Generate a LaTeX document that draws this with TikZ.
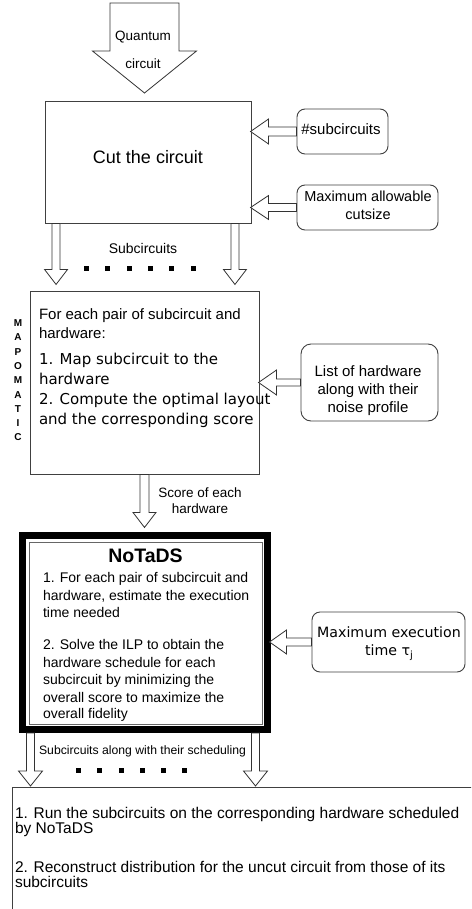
\documentclass[tikz,border=0pt]{standalone}
\usepackage{fontspec}
\setmainfont{Liberation Sans}
\newfontfamily\dejavu{DejaVu Sans}
\usetikzlibrary{calc}
\newcommand{\fs}[2]{\fontsize{#1}{#2}\selectfont}
\newcommand{\blockarr}[6]{%
  \begin{scope}[shift={#1}, rotate=#2]
    \draw[arrline] (0,#4) -- ({#3-#6},#4) -- ({#3-#6},#5) -- (#3,0) -- ({#3-#6},-#5) -- ({#3-#6},-#4) -- (0,-#4) -- cycle;
  \end{scope}}
\tikzset{
  boxline/.style={draw=black!75, line width=0.9pt},
  sqbox/.style={boxline, rectangle, inner sep=0pt},
  rbox/.style={boxline, rectangle, rounded corners=8pt, inner sep=0pt},
  arrline/.style={draw=black!80, line width=0.8pt, fill=white, line join=miter},
  txt/.style={inner sep=0pt, outer sep=0pt},
  sqdot/.style={fill=black, inner sep=0pt, minimum size=5pt},
}
\begin{document}
\begin{tikzpicture}[x=1pt,y=-1pt]
\useasboundingbox (0,0) rectangle (471,909);
\clip (0,0) rectangle (471,909);
\fill[white] (0,0) rectangle (471,909);

% boxes
\node[sqbox, minimum width=206pt, minimum height=122pt] (cut) at (148,162) {};
\node[rbox, minimum width=91pt, minimum height=45pt] (sub) at (342.5,131.5) {};
\node[rbox, minimum width=141pt, minimum height=45pt] (maxcut) at (367.5,207.5) {};
\node[sqbox, minimum width=229pt, minimum height=183pt] (mapo) at (144.5,382.5) {};
\node[rbox, rounded corners=10pt, minimum width=137pt, minimum height=77pt] (list) at (369.5,382.5) {};
\node[draw=black, line width=7pt, rectangle, inner sep=0pt, minimum width=245pt, minimum height=194pt] (notads) at (145,632.5) {};
\node[draw=black!60, line width=0.8pt, rectangle, inner sep=0pt, minimum width=233pt, minimum height=182pt] (notin) at (145.5,633) {};
\node[rbox, minimum width=153pt, minimum height=60pt] (maxexec) at (388.5,642) {};
\node[sqbox, anchor=north west, minimum width=520pt, minimum height=200pt] (run) at (12,787) {};
\coordinate (qin) at (144.5,3);

% block arrows
\blockarr{(qin)}{-90}{90}{34.5}{52}{42}
\blockarr{($(cut.south west)+(11.5,0)$)}{-90}{61}{4}{11.5}{15}
\blockarr{($(cut.south east)+(-16.5,0)$)}{-90}{61}{4}{11.5}{15}
\blockarr{(sub.west)}{180}{46}{4.5}{12.5}{18}
\blockarr{(maxcut.west)}{180}{46}{4}{12}{18}
\blockarr{(list.west)}{180}{42}{3.5}{12.5}{18}
\blockarr{(mapo.south)}{-90}{53}{4.5}{11.5}{15}
\blockarr{(maxexec.west)}{180}{42}{4}{12}{17}
\blockarr{($(notads.south west)+(11.5,0)$)}{-90}{53}{4}{12}{15}
\blockarr{($(notads.south east)+(-15.5,0)$)}{-90}{53}{4}{12}{15}

% dots
\foreach \x [count=\i] in {86,107,129,150,171,193} \node[sqdot] (da\i) at (\x,268) {};
\foreach \x [count=\i] in {78,99,121,142,163,184} \node[sqdot] (db\i) at (\x,770) {};

% texts
\node[txt, anchor=base, font=\fs{13.5}{16}] (q1) at (143,41) {Quantum};
\node[txt, anchor=base, font=\fs{13.5}{16}] (q2) at (143,69) {circuit};
\node[txt, anchor=base, font=\fs{18}{22}] (c1) at (148,163.5) {Cut the circuit};
\node[txt, anchor=base, font=\fs{15}{18}] (s1) at (341,135) {\#subcircuits};
\node[txt, anchor=base, font=\fs{14.5}{17}] (m1) at (368,202) {Maximum allowable};
\node[txt, anchor=base, font=\fs{14.5}{17}] (m2) at (368,219) {cutsize};
\node[txt, anchor=base, font=\fs{14}{17}] (sl) at (143,253) {Subcircuits};

\foreach \l [count=\i from 0] in {M,A,P,O,M,A,T,I,C}
  \node[txt, anchor=base, font=\bfseries\fs{10}{12}] (mp\i) at (18,{326.5+14.3*\i}) {\l};

\node[txt, anchor=base west, font=\fs{15}{19}] (a1) at (39,319) {For each pair of subcircuit and};
\node[txt, anchor=base west, font=\fs{15}{19}] (a2) at (39,338) {hardware:};
\node[txt, anchor=base west, font=\dejavu\fs{15}{20}] (a3) at (39,364) {1. Map subcircuit to the};
\node[txt, anchor=base west, font=\dejavu\fs{15}{20}] (a4) at (39,384) {hardware};
\node[txt, anchor=base west, font=\dejavu\fs{15}{20}] (a5) at (39,404) {2. Compute the optimal layout};
\node[txt, anchor=base west, font=\dejavu\fs{15}{20}] (a6) at (39,424) {and the corresponding score};

\node[txt, anchor=base, font=\fs{15}{18}] (l1) at (368,376) {List of hardware};
\node[txt, anchor=base, font=\fs{15}{18}] (l2) at (368,394) {along with their};
\node[txt, anchor=base, font=\fs{15}{18}] (l3) at (368,412) {noise profile};

\node[txt, anchor=base, font=\fs{13.5}{16}] (sc1) at (200,497) {Score of each};
\node[txt, anchor=base, font=\fs{13.5}{16}] (sc2) at (200,513) {hardware};

\node[txt, anchor=base, font=\bfseries\fs{19.5}{23}] (nt) at (145.5,562) {NoTaDS};
\node[txt, anchor=base west, font=\fs{14}{17}] (n1) at (43,582) {1. For each pair of subcircuit and};
\node[txt, anchor=base west, font=\fs{14}{17}] (n2) at (43,600) {hardware, estimate the execution};
\node[txt, anchor=base west, font=\fs{14}{17}] (n3) at (43,617) {time needed};
\node[txt, anchor=base west, font=\fs{14}{17}] (n4) at (43,649) {2. Solve the ILP to obtain the};
\node[txt, anchor=base west, font=\fs{14}{17}] (n5) at (43,667) {hardware schedule for each};
\node[txt, anchor=base west, font=\fs{14}{17}] (n6) at (43,684) {subcircuit by minimizing the};
\node[txt, anchor=base west, font=\fs{14}{17}] (n7) at (43,702) {overall score to maximize the};
\node[txt, anchor=base west, font=\fs{14}{17}] (n8) at (43,718) {overall fidelity};

\node[txt, anchor=base, font=\dejavu\fs{14.2}{18}] (x1) at (389,637) {Maximum execution};
\node[txt, anchor=base, font=\dejavu\fs{14.2}{18}] (x2) at (389,655) {time τ\raisebox{-3.5pt}{\fs{10}{12}j}};

\node[txt, anchor=base, font=\fs{12.2}{15}] (sa) at (142.5,754) {Subcircuits along with their scheduling};

\node[txt, anchor=base west, font=\fs{15.5}{18}] (r1) at (15,818) {1. Run the subcircuits on the corresponding hardware scheduled};
\node[txt, anchor=base west, font=\fs{15.5}{18}] (r2) at (15,833) {by NoTaDS};
\node[txt, anchor=base west, font=\fs{15.5}{18}] (r3) at (15,872) {2. Reconstruct distribution for the uncut circuit from those of its};
\node[txt, anchor=base west, font=\fs{15.5}{18}] (r4) at (15,887) {subcircuits};
\end{tikzpicture}
\end{document}
